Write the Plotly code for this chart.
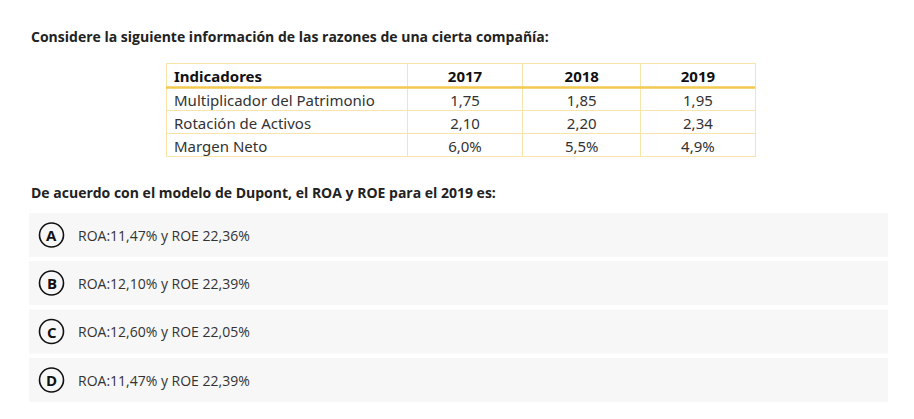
import plotly.graph_objects as go

# ---- data ----
title_text = "Considere la siguiente información de las razones de una cierta compañía:"
question_text = "De acuerdo con el modelo de Dupont, el ROA y ROE para el 2019 es:"
header_first = "Indicadores"
years = ["2017", "2018", "2019"]
indicadores = ["Multiplicador del Patrimonio", "Rotación de Activos", "Margen Neto"]
v2017 = ["1,75", "2,10", "6,0%"]
v2018 = ["1,85", "2,20", "5,5%"]
v2019 = ["1,95", "2,34", "4,9%"]
letters = ["A", "B", "C", "D"]
options = ["ROA:11,47% y ROE 22,36%", "ROA:12,10% y ROE 22,39%",
           "ROA:12,60% y ROE 22,05%", "ROA:11,47% y ROE 22,39%"]

# page has an 8px body margin: work in page pixel coordinates
OFF = 8
PW, PH = 914, 419
W, H = PW - OFF, PH - OFF


def px(x):
    return (x - OFF) / W


def py(y):
    return 1 - (y - OFF) / H


fig = go.Figure()

# table
tx0, tx1, ty0 = 166, 755, 63
table_font = "Noto Sans"
fig.add_trace(go.Table(
    domain=dict(x=[px(tx0), px(tx1)], y=[py(175), py(ty0)]),
    columnwidth=[241, 115, 118, 114],
    header=dict(
        values=[header_first] + years,
        align=["left", "center", "center", "center"],
        fill_color="white",
        line=dict(color="#f7e4a8", width=1),
        font=dict(family=table_font, size=15, color="#111", weight="bold"),
        height=24,
    ),
    cells=dict(
        values=[indicadores, v2017, v2018, v2019],
        align=["left", "center", "center", "center"],
        fill_color="white",
        line=dict(color="#f7e4a8", width=1),
        font=dict(family=table_font, size=15, color="#333"),
        height=23,
    ),
))

shapes = []
annotations = []
# thick header underline
shapes.append(dict(type="line", xref="x", yref="y", x0=tx0, x1=tx1, y0=87.5, y1=87.5,
                   line=dict(color="#f3c94f", width=2.5)))

annotations.append(dict(x=29, y=36, xref="x", yref="y", text="<b>" + title_text + "</b>",
                        showarrow=False, xanchor="left", yanchor="middle",
                        font=dict(family="Open Sans", size=14, color="#222")))
annotations.append(dict(x=29, y=192, xref="x", yref="y", text="<b>" + question_text + "</b>",
                        showarrow=False, xanchor="left", yanchor="middle",
                        font=dict(family="Open Sans", size=14, color="#222")))

box_tops = [213, 261, 309.5, 358]
box_h = 44
for i, (L, t) in enumerate(zip(letters, options)):
    y0 = box_tops[i]
    yc = y0 + box_h / 2
    shapes.append(dict(type="rect", xref="x", yref="y", x0=29, x1=888, y0=y0, y1=y0 + box_h,
                       fillcolor="#f7f7f7", line=dict(width=0), layer="below"))
    shapes.append(dict(type="circle", xref="x", yref="y", x0=39.5, x1=63.5, y0=yc - 12, y1=yc + 12,
                       line=dict(color="#111", width=1.6)))
    annotations.append(dict(x=51.5, y=yc, xref="x", yref="y", text="<b>" + L + "</b>",
                            showarrow=False, xanchor="center", yanchor="middle",
                            font=dict(family="Open Sans", size=15, color="#111")))
    annotations.append(dict(x=76, y=yc, xref="x", yref="y", text=t,
                            showarrow=False, xanchor="left", yanchor="middle",
                            font=dict(family="Open Sans", size=14, color="#333")))

fig.update_layout(
    width=W, height=H, margin=dict(l=0, r=0, t=0, b=0),
    paper_bgcolor="white", plot_bgcolor="white",
    xaxis=dict(range=[OFF, PW], visible=False, fixedrange=True),
    yaxis=dict(range=[PH, OFF], visible=False, fixedrange=True),
    shapes=shapes, annotations=annotations, showlegend=False,
)
fig.write_html("out.html")
